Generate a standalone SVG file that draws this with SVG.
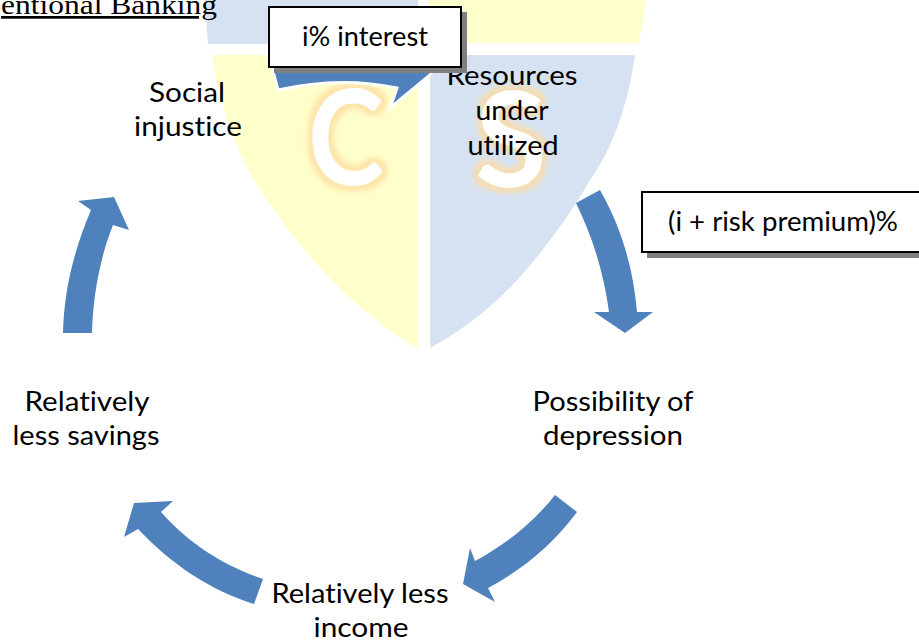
<svg xmlns="http://www.w3.org/2000/svg" width="919" height="642" viewBox="0 0 919 642">
<style>
text{font-family:"Lato","Open Sans","Liberation Sans",sans-serif;font-size:27px;fill:#000;text-anchor:middle;font-variant-ligatures:none}
.arrow{fill:#4f81bd}
.box{fill:#fff;stroke:#000;stroke-width:2}
.shadow{fill:#7f7f7f}
.blue{fill:#d6e2f2}
.yellow{fill:#ffffcb}
.letter{font-size:132px;font-weight:bold;fill:#fff}
</style>
<defs>
<filter id="glow" x="-30%" y="-30%" width="160%" height="160%">
<feMorphology in="SourceAlpha" operator="dilate" radius="5" result="d"/>
<feGaussianBlur in="d" stdDeviation="2.5" result="b"/>
<feFlood flood-color="#fddca0" flood-opacity=".75"/>
<feComposite in2="b" operator="in" result="g"/>
<feMerge><feMergeNode in="g"/><feMergeNode in="SourceGraphic"/></feMerge>
</filter>
</defs>
<rect width="919" height="642" fill="#fff"/>
<g id="watermark">
<path class="blue" d="M205 0H418V44H208Q206 22 205 0Z"/>
<path class="yellow" d="M429 0H646Q643 22 639 43H429Z"/>
<path class="yellow" d="M212 55H418V348C360 315 310 262 272 207C240 165 222 115 212 55Z"/>
<path class="blue" d="M430 55H635C628 105 612 150 590 180C570 215 548 245 520 277C490 310 460 332 430 348Z"/>
<text class="letter" x="346" y="185" textLength="76" lengthAdjust="spacingAndGlyphs" filter="url(#glow)">C</text>
<text class="letter" x="511" y="187" textLength="72" lengthAdjust="spacingAndGlyphs" filter="url(#glow)">S</text>
</g>
<g id="connectors">
<path class="arrow" stroke="#fff" stroke-width="3" d="M270 60H440L430 75L390 108L397 88Q340 76 278 90Z"/>
<path class="arrow" d="M576 203L600 190C620 225 633 265 637 312H653L625 333L594 312H609C604 275 594 240 576 203Z"/>
<path class="arrow" d="M555 495L577 512C552 545 525 568 488 588L495 602L463 584L470 548L475 561C505 545 533 523 555 495Z"/>
<path class="arrow" d="M263 579L254 604C210 590 172 565 138 529L124 537L134 503L173 501L161 512C190 545 225 566 263 579Z"/>
<path class="arrow" d="M63 333H92C93 295 100 258 113 225L129 230L114 197L78 201L91 210C74 250 64 290 63 333Z"/>
</g>
<g id="heading">
<text x="1" y="14" textLength="216" lengthAdjust="spacingAndGlyphs" style="font-family:'Liberation Serif',serif;font-size:27px;text-anchor:start;text-decoration:underline">entional Banking</text>
</g>
<g id="node-social"><text x="187" y="102" textLength="76" lengthAdjust="spacingAndGlyphs">Social</text><text x="188" y="136" textLength="108" lengthAdjust="spacingAndGlyphs">injustice</text></g>
<g id="node-resources"><text x="512" y="85" textLength="131" lengthAdjust="spacingAndGlyphs">Resources</text><text x="512" y="120" textLength="73" lengthAdjust="spacingAndGlyphs">under</text><text x="513" y="155" textLength="91" lengthAdjust="spacingAndGlyphs">utilized</text></g>
<g id="node-depression"><text x="613" y="411" textLength="161" lengthAdjust="spacingAndGlyphs">Possibility of</text><text x="613" y="445" textLength="140" lengthAdjust="spacingAndGlyphs">depression</text></g>
<g id="node-income"><text x="360" y="603" textLength="177" lengthAdjust="spacingAndGlyphs">Relatively less</text><text x="361" y="637" textLength="95" lengthAdjust="spacingAndGlyphs">income</text></g>
<g id="node-savings"><text x="87" y="411" textLength="125" lengthAdjust="spacingAndGlyphs">Relatively</text><text x="86" y="445" textLength="147" lengthAdjust="spacingAndGlyphs">less savings</text></g>
<g id="label-interest">
<rect class="shadow" x="274" y="12" width="193" height="61"/>
<rect class="box" x="269" y="7" width="192" height="60"/>
<text x="365" y="46" textLength="126" lengthAdjust="spacingAndGlyphs">i% interest</text>
</g>
<g id="label-premium">
<rect class="shadow" x="647" y="198" width="280" height="60"/>
<rect class="box" x="642" y="192" width="280" height="60"/>
<text x="783" y="231" textLength="230" lengthAdjust="spacingAndGlyphs">(i + risk premium)%</text>
</g>
</svg>
